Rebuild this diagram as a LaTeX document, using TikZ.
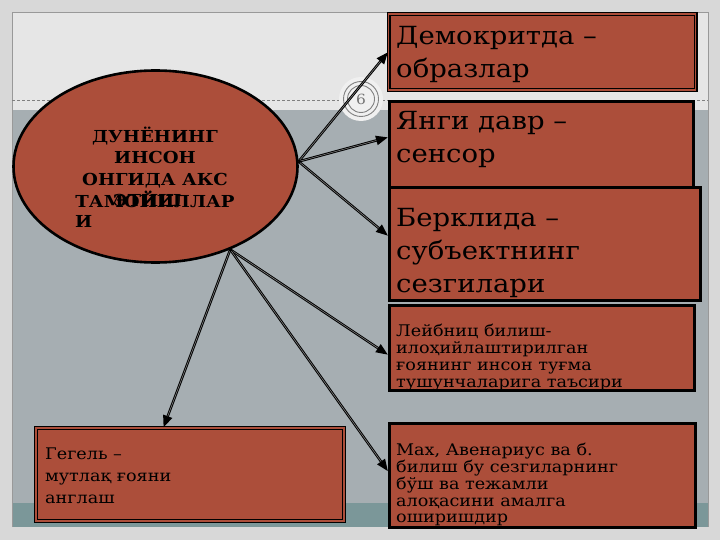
\documentclass[tikz,border=0pt]{standalone}
\usepackage{fontspec}
\setmainfont{DejaVu Serif}[FakeStretch=1.1]
\usetikzlibrary{arrows.meta,shapes.geometric}
\definecolor{brick}{HTML}{AC4E3A}
\definecolor{band}{HTML}{A6AEB2}
\definecolor{strip}{HTML}{7B9799}
\definecolor{pale}{HTML}{E6E6E6}
\definecolor{outer}{HTML}{D8D8D8}
\begin{document}
\begin{tikzpicture}[x=1pt,y=-1pt,>={Triangle[length=12pt,width=9pt]},
    box/.style={draw=black,line width=2.6pt,fill=brick,inner sep=0pt,anchor=north west},
    dbox/.style={box,line width=1.2pt,double=brick,double distance=1.6pt},
    big/.style={anchor=north west,inner sep=0pt,align=left,font=\fontsize{25}{33}\selectfont},
    small/.style={anchor=north west,inner sep=0pt,align=left,font=\fontsize{16}{16.8}\selectfont},
    title/.style={inner sep=0pt,font=\bfseries\fontsize{16.5}{21.6}\selectfont},
    conn/.style={->,line width=2.5pt,postaction={draw=black!45,line width=0.5pt,-,shorten >=12pt,shorten <=2pt}}]
    \useasboundingbox (0,0) rectangle (720,540);
    % slide background
    \fill[outer] (0,0) rectangle (720,540);
    \fill[pale] (12,12) rectangle (708,110);
    \fill[band] (12,110) rectangle (708,503);
    \fill[strip] (12,503) rectangle (708,527);
    \draw[gray!80,line width=0.6pt] (12,527) -- (12,12) -- (708,12) -- (708,527);
    \draw[gray,densely dashed,line width=0.5pt] (12,100) -- (708,100);
    % page number
    \fill[pale!60!white] (361,99) circle (22pt);
    \node[circle,draw=black!50,line width=0.9pt,minimum size=35pt,inner sep=0pt,text=black!55,font=\fontsize{14}{14}\selectfont] (pg) at (361,99) {6};
    \draw[black!50,line width=0.9pt] (pg.center) circle (13.5pt);
    % main ellipse
    \node[ellipse,draw=black,line width=2.6pt,fill=brick,minimum width=284pt,minimum height=192pt,inner sep=0pt] (ell) at (155.5,166.5) {};
    \node[title,align=center] (et) at (155,167) {ДУНЁНИНГ\\ИНСОН\\ОНГИДА АКС\\ТАМОЙИЛЛАР};
    \node[title,anchor=base west] (ex) at (113,207) {ЭТИШ};
    \node[title,anchor=base west] (ei) at (75,228) {И};
    % boxes
    \node[dbox,minimum width=307pt,minimum height=76pt] (b1) at (388,13.5) {};
    \node[box,minimum width=304pt,minimum height=90pt] (b2) at (388,100) {};
    \node[box,minimum width=311pt,minimum height=113pt] (b3) at (388,186) {};
    \node[box,minimum width=305pt,minimum height=85pt] (b4) at (388,304) {};
    \node[box,minimum width=306pt,minimum height=104pt] (b5) at (388,422) {};
    \node[dbox,minimum width=308pt,minimum height=93pt] (b6) at (35.5,427.5) {};
    \node[big] (t1) at (396,26) {Демокритда –\\образлар};
    \node[big] (t2) at (396,111) {Янги давр –\\сенсор};
    \node[big] (t3) at (396,208) {Берклида –\\субъектнинг\\сезгилари};
    \node[small] (t4) at (396,324) {Лейбниц билиш-\\илоҳийлаштирилган\\ғоянинг инсон туғма\\тушунчаларига таъсири};
    \node[small] (t5) at (396,443) {Мах, Авенариус ва б.\\билиш бу сезгиларнинг\\бўш ва тежамли\\алоқасини амалга\\оширишдир};
    \node[small,font=\fontsize{16}{22}\selectfont] (t6) at (45,448) {Гегель –\\мутлақ ғояни\\англаш};
    % connectors
    \draw[conn] (ell.2) -- ([yshift=0pt]b1.west);
    \draw[conn] (ell.2) -- ([yshift=9pt]b2.west);
    \draw[conn] (ell.2) -- ([yshift=8pt]b3.west);
    \draw[conn] (ell.-48) -- ([yshift=-7pt]b4.west);
    \draw[conn] (ell.-48) -- ([yshift=4pt]b5.west);
    \draw[conn] (ell.-48) -- ([xshift=128pt]b6.north west);
\end{tikzpicture}
\end{document}
